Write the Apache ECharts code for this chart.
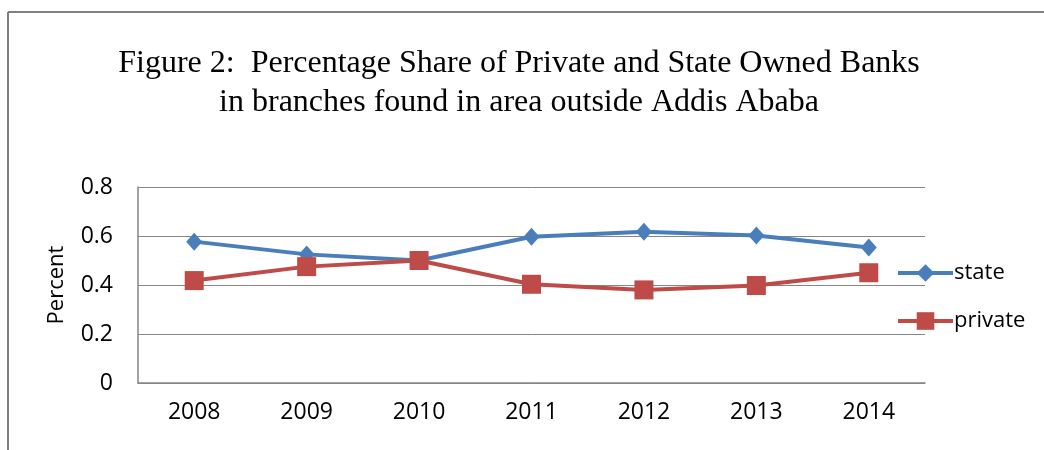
<!DOCTYPE html>
<html><head><meta charset="utf-8">
<script src="https://cdn.jsdelivr.net/npm/echarts@6/dist/echarts.min.js"></script>
<style>html,body{margin:0;padding:0;background:#fff}#c{width:1044px;height:450px}</style>
</head><body><div id="c"></div>
<script>
var years = ['2008','2009','2010','2011','2012','2013','2014'];
var stateVals = [0.577, 0.525, 0.50, 0.597, 0.617, 0.602, 0.553];
var privateVals = [0.418, 0.475, 0.50, 0.403, 0.38, 0.398, 0.45];
var yTicks = [0, 0.2, 0.4, 0.6, 0.8];
var titleLines = ['Figure 2:  Percentage Share of Private and State Owned Banks', 'in branches found in area outside Addis Ababa'];

var chart = echarts.init(document.getElementById('c'));
var sans = 'Open Sans';
chart.setOption({
  animation: false,
  title: {
    text: titleLines.join('\n'),
    left: 514, textAlign: 'center', top: 39,
    textStyle: {fontFamily: 'Liberation Serif', fontSize: 32, fontWeight: 'normal', color: '#000', lineHeight: 39}
  },
  graphic: [
    {type: 'line', shape: {x1: 8, y1: 12, x2: 1044, y2: 12}, style: {stroke: '#808080', lineWidth: 2}},
    {type: 'line', shape: {x1: 8, y1: 12, x2: 8, y2: 450}, style: {stroke: '#808080', lineWidth: 2}}
  ],
  legend: {
    orient: 'vertical', left: 891, top: 257, itemGap: 26,
    itemWidth: 55, itemHeight: 22,
    lineStyle: {width: 4},
    textStyle: {fontFamily: sans, fontSize: 22, color: '#000', padding: [0,0,0,-4]},
    data: ['state', 'private']
  },
  grid: {left: 138, top: 187, right: 119, bottom: 67},
  xAxis: {
    type: 'category', data: years, boundaryGap: true,
    axisLine: {lineStyle: {color: '#868686', width: 1.5}},
    axisTick: {show: false},
    axisLabel: {fontFamily: sans, fontSize: 23, color: '#000', margin: 18}
  },
  yAxis: {
    type: 'value', min: yTicks[0], max: yTicks[yTicks.length-1], interval: 0.2,
    name: 'Percent', nameLocation: 'middle', nameGap: 70, nameRotate: 90,
    nameTextStyle: {fontFamily: sans, fontSize: 22, fontWeight: 'normal', color: '#000'},
    axisLine: {show: true, lineStyle: {color: '#868686', width: 1.5}},
    axisTick: {show: false},
    splitLine: {lineStyle: {color: '#868686', width: 1}},
    axisLabel: {fontFamily: sans, fontSize: 23, color: '#000', margin: 25,
      formatter: function(v){ return v === 0 ? '0' : String(Math.round(v*10)/10); }}
  },
  series: [
    {name: 'state', type: 'line', data: stateVals, symbol: 'diamond', symbolSize: [16, 18],
     lineStyle: {color: '#4A7EBB', width: 4}, itemStyle: {color: '#4A7EBB'}},
    {name: 'private', type: 'line', data: privateVals, symbol: 'rect', symbolSize: 19,
     lineStyle: {color: '#BE4B48', width: 4}, itemStyle: {color: '#BE4B48'}}
  ]
});
</script></body></html>
